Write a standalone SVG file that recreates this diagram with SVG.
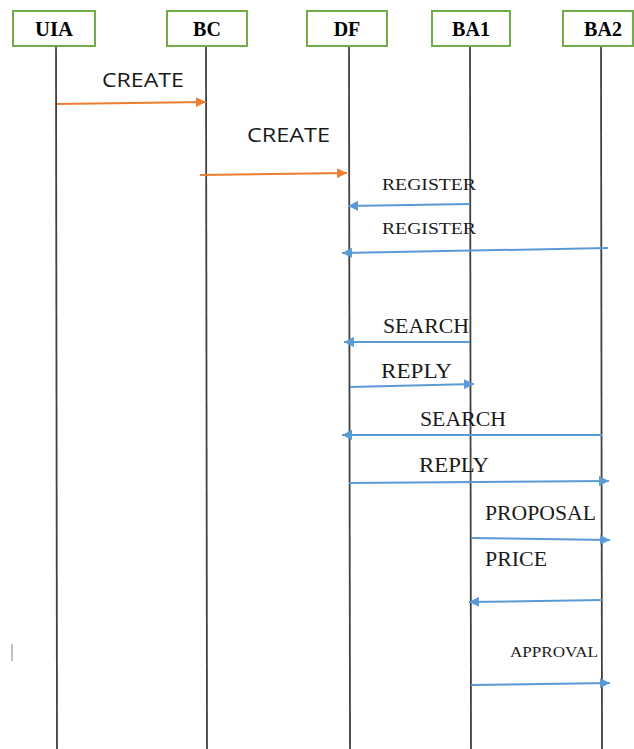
<svg xmlns="http://www.w3.org/2000/svg" width="634" height="749" viewBox="0 0 634 749">
  <defs>
    <marker id="ah-orange" viewBox="0 0 10 10" refX="10" refY="5" markerWidth="5" markerHeight="5" markerUnits="strokeWidth" orient="auto">
      <path d="M0,0 L10,5 L0,10 z" fill="#ED7D31"/>
    </marker>
    <marker id="ah-blue" viewBox="0 0 10 10" refX="10" refY="5" markerWidth="5" markerHeight="5" markerUnits="strokeWidth" orient="auto">
      <path d="M0,0 L10,5 L0,10 z" fill="#5B9BD5"/>
    </marker>
    <style>
      .box { fill: #ffffff; stroke: #70AD47; stroke-width: 2; }
      .name { font-family: "Liberation Serif", "Times New Roman", serif; font-weight: bold; font-size: 20px; fill: #000; text-anchor: middle; }
      .life { stroke: #404040; stroke-width: 1.8; fill: none; }
      .msg-o { stroke: #ED7D31; stroke-width: 2; fill: none; marker-end: url(#ah-orange); }
      .msg-b { stroke: #5B9BD5; stroke-width: 2; fill: none; marker-end: url(#ah-blue); }
      .sans { font-family: "Open Sans", "Liberation Sans", sans-serif; font-size: 20px; fill: #1a1a1a; }
      .serif { font-family: "Liberation Serif", "Times New Roman", serif; font-size: 20px; fill: #1a1a1a; }
      .serif-s { font-family: "Liberation Serif", "Times New Roman", serif; font-size: 17px; fill: #1a1a1a; }
      .serif-xs { font-family: "Liberation Serif", "Times New Roman", serif; font-size: 14px; fill: #1a1a1a; }
    </style>
  </defs>

  <rect width="634" height="749" fill="#ffffff"/>

  <!-- lifelines -->
  <g id="lifelines">
    <line class="life" x1="56" y1="46" x2="57" y2="749"/>
    <line class="life" x1="206" y1="46" x2="207" y2="749"/>
    <line class="life" x1="349" y1="46" x2="350" y2="749"/>
    <line class="life" x1="470" y1="46" x2="471" y2="749"/>
    <line class="life" x1="601" y1="46" x2="602" y2="749"/>
  </g>

  <!-- participants -->
  <g id="node-uia">
    <rect class="box" x="13" y="11" width="82" height="35"/>
    <text class="name" x="54" y="36" textLength="38" lengthAdjust="spacingAndGlyphs">UIA</text>
  </g>
  <g id="node-bc">
    <rect class="box" x="167" y="11" width="80" height="35"/>
    <text class="name" x="207" y="36">BC</text>
  </g>
  <g id="node-df">
    <rect class="box" x="307" y="11" width="80" height="35"/>
    <text class="name" x="347" y="36">DF</text>
  </g>
  <g id="node-ba1">
    <rect class="box" x="432" y="11" width="78" height="35"/>
    <text class="name" x="471" y="36">BA1</text>
  </g>
  <g id="node-ba2">
    <rect class="box" x="563" y="11" width="70" height="35"/>
    <text class="name" x="603" y="36">BA2</text>
  </g>

  <!-- stray mark on the left margin -->
  <line x1="12" y1="644" x2="12" y2="661" stroke="#aaaaaa" stroke-width="1.5"/>

  <!-- messages -->
  <g id="connectors">
    <line class="msg-o" x1="57" y1="104" x2="206" y2="102"/>
    <line class="msg-o" x1="200" y1="175" x2="347" y2="173"/>
    <line class="msg-b" x1="470" y1="204" x2="348" y2="206"/>
    <line class="msg-b" x1="608" y1="248" x2="342" y2="253"/>
    <line class="msg-b" x1="470" y1="342" x2="344" y2="342"/>
    <line class="msg-b" x1="350" y1="387" x2="474" y2="384"/>
    <line class="msg-b" x1="602" y1="435" x2="342" y2="435"/>
    <line class="msg-b" x1="349" y1="483" x2="609" y2="481"/>
    <line class="msg-b" x1="471" y1="538" x2="610" y2="540"/>
    <line class="msg-b" x1="602" y1="600" x2="469" y2="602"/>
    <line class="msg-b" x1="471" y1="685" x2="610" y2="683"/>
  </g>

  <!-- message labels -->
  <g id="labels">
    <text class="sans" x="102" y="87" textLength="82" lengthAdjust="spacingAndGlyphs">CREATE</text>
    <text class="sans" x="247" y="142" textLength="83" lengthAdjust="spacingAndGlyphs">CREATE</text>
    <text class="serif-s" x="382" y="190" textLength="94" lengthAdjust="spacingAndGlyphs">REGISTER</text>
    <text class="serif-s" x="382" y="234" textLength="94" lengthAdjust="spacingAndGlyphs">REGISTER</text>
    <text class="serif" x="383" y="333" textLength="86" lengthAdjust="spacingAndGlyphs">SEARCH</text>
    <text class="serif" x="381" y="378" textLength="71" lengthAdjust="spacingAndGlyphs">REPLY</text>
    <text class="serif" x="420" y="426" textLength="86" lengthAdjust="spacingAndGlyphs">SEARCH</text>
    <text class="serif" x="419" y="472" textLength="70" lengthAdjust="spacingAndGlyphs">REPLY</text>
    <text class="serif" x="485" y="520" textLength="111" lengthAdjust="spacingAndGlyphs">PROPOSAL</text>
    <text class="serif" x="485" y="566" textLength="62" lengthAdjust="spacingAndGlyphs">PRICE</text>
    <text class="serif-xs" x="510" y="657" textLength="88" lengthAdjust="spacingAndGlyphs">APPROVAL</text>
  </g>
</svg>
